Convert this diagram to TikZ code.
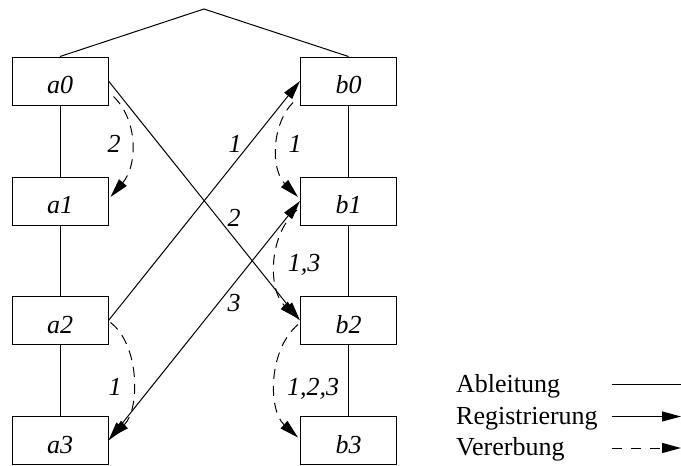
\documentclass[tikz,border=0pt]{standalone}
\usepackage{fontspec}
\setmainfont{Liberation Serif}
\usetikzlibrary{arrows.meta,calc}
\tikzset{
  tip/.style={-{Triangle[length=19pt,width=10pt]}},
  obj/.style={draw, line width=1pt, minimum width=96pt, minimum height=48pt, inner sep=0pt, text height=25pt, text depth=0pt, font=\fontsize{26}{30}\selectfont\itshape},
  lbl/.style={inner sep=0pt, anchor=base, font=\fontsize{26}{30}\selectfont\itshape},
  legtext/.style={inner sep=0pt, anchor=base west, font=\fontsize{26}{30}\selectfont},
  ableit/.style={line width=1pt},
  regist/.style={line width=1pt, tip},
  registboth/.style={line width=1pt, {Triangle[length=19pt,width=10pt]}-{Triangle[length=19pt,width=10pt]}},
  vererb/.style={line width=1pt, dash pattern=on 10pt off 7pt, tip},
  vererbleg/.style={line width=1pt, dash pattern=on 10pt off 9pt, tip}
}
\begin{document}
\begin{tikzpicture}[x=1pt,y=-1pt]
\useasboundingbox (0,0) rectangle (681,466);
% boxes
\node[obj] (a0) at (60,81) {a0};
\node[obj] (a1) at (60,201) {a1};
\node[obj] (a2) at (60,320.5) {a2};
\node[obj] (a3) at (60,440.5) {a3};
\node[obj] (b0) at (348.5,81) {b0};
\node[obj] (b1) at (348.5,201) {b1};
\node[obj] (b2) at (348.5,320.5) {b2};
\node[obj] (b3) at (348.5,440.5) {b3};
\coordinate (top) at (204,9);
% Ableitung
\draw[ableit] (a0.north) -- (top) -- (b0.north);
\draw[ableit] (a0) -- (a1);
\draw[ableit] (a1) -- (a2);
\draw[ableit] (a2) -- (a3);
\draw[ableit] (b0) -- (b1);
\draw[ableit] (b1) -- (b2);
\draw[ableit] (b2) -- (b3);
% Registrierung
\draw[regist] (a0.east) -- (b2.west);
\draw[regist] (a2.east) -- (b0.west);
\draw[registboth] (b1.west) -- (a3.east);
% Vererbung
\draw[vererb] ($(a0.south east)+(5,-9)$) .. controls (138,120) and (138,165) .. ($(a1.east)+(2,-4)$);
\draw[vererb] ($(a2.east)+(2,2)$) .. controls (140,345) and (140,410) .. ($(a3.east)+(2,-3)$);
\draw[vererb] ($(b0.south west)+(-7,-3)$) .. controls (271,125) and (271,170) .. ($(b1.west)+(-2,-4)$);
\draw[vererb] ($(b1.west)+(-3,9)$) .. controls (268,235) and (268,290) .. ($(b2.west)+(-2,-2)$);
\draw[vererb] ($(b2.west)+(-2,4)$) .. controls (268,350) and (268,410) .. ($(b3.west)+(-2,-3)$);
% labels
\node[lbl] (l1) at (114,152) {2};
\node[lbl] (l2) at (295,152) {1};
\node[lbl] (l3) at (235,152) {1};
\node[lbl] (l4) at (234,226) {2};
\node[lbl] (l5) at (304,271) {1,3};
\node[lbl] (l6) at (234,311) {3};
\node[lbl] (l7) at (115,395) {1};
\node[lbl] (l8) at (313,395) {1,2,3};
% legend
\node[legtext] (t1) at (456,392) {Ableitung};
\node[legtext] (t2) at (456,424) {Registrierung};
\node[legtext] (t3) at (456,455) {Vererbung};
\coordinate (p1) at (612,384);
\coordinate (q1) at (681,384);
\coordinate (p2) at (612,416.5);
\coordinate (q2) at (681,416.5);
\coordinate (p3) at (612,448);
\coordinate (q3) at (681,448);
\draw[ableit] (p1) -- (q1);
\draw[regist] (p2) -- (q2);
\draw[vererbleg] (p3) -- (q3);
\end{tikzpicture}
\end{document}
